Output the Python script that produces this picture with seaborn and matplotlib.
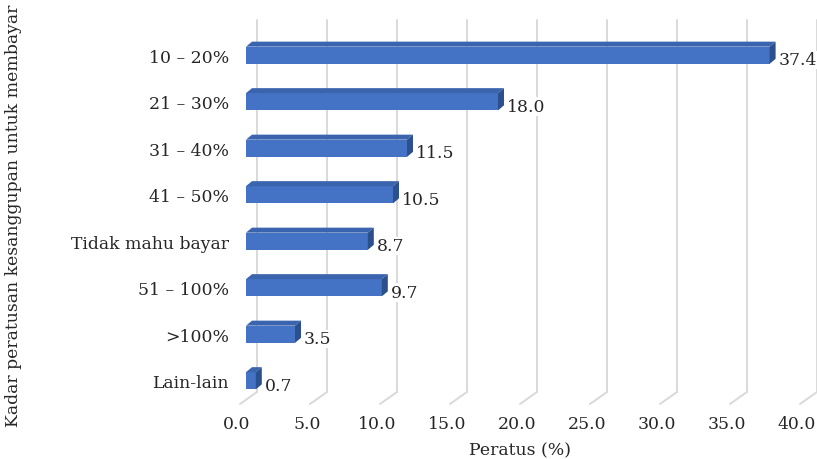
import matplotlib
matplotlib.use("Agg")
import matplotlib.pyplot as plt
from matplotlib.patches import Polygon
from matplotlib.transforms import ScaledTranslation
import seaborn as sns
import pandas as pd

categories = ["10 – 20%", "21 – 30%", "31 – 40%", "41 – 50%",
              "Tidak mahu bayar", "51 – 100%", ">100%", "Lain-lain"]
values = [37.4, 18.0, 11.5, 10.5, 8.7, 9.7, 3.5, 0.7]
x_ticks = [0, 5, 10, 15, 20, 25, 30, 35, 40]
x_label = "Peratus (%)"
y_label = "Kadar peratusan kesanggupan untuk membayar"

sns.set_theme(style="white")
plt.rcParams["font.family"] = ["DejaVu Serif"]
FS = 12.4
TXT = "#262626"

DPI = 100
fig = plt.figure(figsize=(8.17, 4.6), dpi=DPI)
W, H = 817, 460
# front plane of the 3-D box: x 0 -> 240px, 40 -> 800px; rows from 33px to 405px
ax = fig.add_axes([240 / W, 1 - 405 / H, 560 / W, 372 / H])

df = pd.DataFrame({"cat": categories, "val": values})
sns.barplot(data=df, x="val", y="cat", orient="h", width=0.37,
            color="#4472C4", saturation=1, ax=ax, zorder=3)

ax.set_xlim(0, 40)
ax.set_ylim(len(categories) - 0.5, -0.5)
for s in ax.spines.values():
    s.set_visible(False)
ax.grid(False)

px_x = 560 / 40.0             # pixels per data unit (x)
px_y = 372 / len(categories)  # pixels per category


def shift(dx_px, dy_px):
    return ax.transData + ScaledTranslation(dx_px / DPI, dy_px / DPI, fig.dpi_scale_trans)


# back-wall gridlines with the floor diagonal to the front edge
back = shift(17, 12)
grid_col = "#D9D9D9"
for v in x_ticks:
    ax.plot([v, v], [-0.5, len(categories) - 0.5], color=grid_col,
            lw=1.4, transform=back, clip_on=False, zorder=1)
    x0, y0 = ax.transData.transform((v, len(categories) - 0.5))
    fig.add_artist(plt.Line2D([(x0 + 17) / W, x0 / W],
                              [(y0 + 12) / H, y0 / H],
                              color=grid_col, lw=1.4, zorder=1))

# bars sit slightly behind the front plane, with top and side faces
bar_shift = shift(6, 0)
dx = 6 / px_x
dy = -5 / px_y
for p in list(ax.patches):
    p.set_transform(bar_shift)
    p.set_edgecolor("none")
    x0, y0, w, h = p.get_x(), p.get_y(), p.get_width(), p.get_height()
    top = Polygon([(x0, y0), (x0 + w, y0), (x0 + w + dx, y0 + dy), (x0 + dx, y0 + dy)],
                  closed=True, facecolor="#3A64AE", edgecolor="none",
                  transform=bar_shift, zorder=3)
    side = Polygon([(x0 + w, y0), (x0 + w, y0 + h), (x0 + w + dx, y0 + h + dy),
                    (x0 + w + dx, y0 + dy)],
                   closed=True, facecolor="#2C4F8E", edgecolor="none",
                   transform=bar_shift, zorder=3)
    ax.add_patch(top)
    ax.add_patch(side)

# value labels
for i, v in enumerate(values):
    ax.text(v + dx, i + 0.1, f"{v:.1f}", transform=shift(9, 0),
            ha="left", va="center", fontsize=FS, color=TXT, zorder=4,
            bbox=dict(boxstyle="square,pad=0.05", fc="white", ec="none"))

ax.set_xticks(x_ticks)
ax.set_xticklabels([f"{t:.1f}" for t in x_ticks], fontsize=FS, color=TXT)
ax.tick_params(axis="x", length=0, pad=8)
ax.tick_params(axis="y", length=0, pad=8, labelsize=FS, labelcolor=TXT)
for lab in ax.get_xticklabels():
    lab.set_transform(lab.get_transform() + ScaledTranslation(-3 / DPI, 0, fig.dpi_scale_trans))

ax.set_xlabel(x_label, fontsize=FS, color=TXT, labelpad=7)
ax.set_ylabel("")
fig.text(14 / W, 1 - 216 / H, y_label, rotation=90, ha="center", va="center",
         fontsize=FS, color=TXT)

fig.savefig("out.png", dpi=DPI)
